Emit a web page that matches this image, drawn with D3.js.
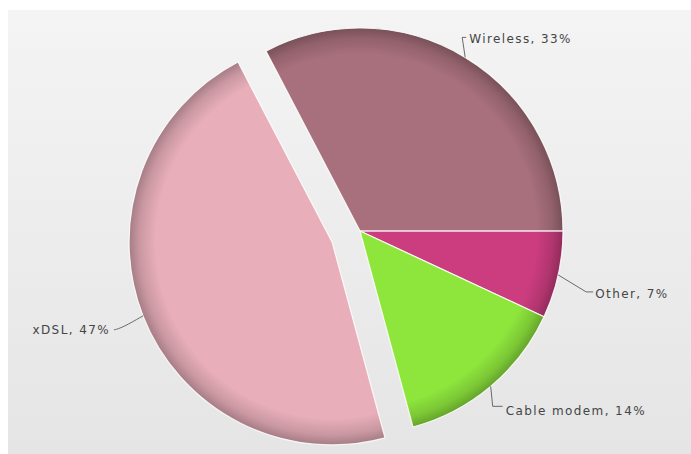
<!DOCTYPE html>
<html>
<head>
<meta charset="utf-8">
<script src="https://cdn.jsdelivr.net/npm/d3@7/dist/d3.min.js"></script>
<style>
  html, body { margin: 0; padding: 0; background: #ffffff; }
  svg { display: block; }
</style>
</head>
<body>
<svg id="chart" width="691" height="454"></svg>
<script>
// Broadband connection types, share of subscriptions (%)
const categories = ["Wireless", "Other", "Cable modem", "xDSL"];
const shares = [33, 7, 14, 47];
const sliceColors = ["#a8707c", "#cc3d80", "#8ee63d", "#e8aeba"];
const exploded = [false, false, false, true];

const W = 691, H = 454;
const cx = 360, cy = 231, R = 203;
const explodeDist = 30;
const startDeg = -27.6;

const svg = d3.select("#chart");
const defs = svg.append("defs");

// panel background
const bg = defs.append("linearGradient").attr("id", "panelBg")
  .attr("x1", 0).attr("y1", 0).attr("x2", 0).attr("y2", 1);
bg.append("stop").attr("offset", "0%").attr("stop-color", "#f4f4f4");
bg.append("stop").attr("offset", "100%").attr("stop-color", "#e5e5e5");
svg.append("rect").attr("x", 8).attr("y", 10).attr("width", W - 8).attr("height", H - 10)
  .attr("fill", "url(#panelBg)");

const pie = d3.pie().sort(null).value(d => d)
  .startAngle(startDeg * Math.PI / 180)
  .endAngle(startDeg * Math.PI / 180 + 2 * Math.PI);
const arcs = pie(shares);

const arc = d3.arc().innerRadius(0).outerRadius(R);
const rimArc = d3.arc().innerRadius(R).outerRadius(R);
const dirArc = d3.arc().innerRadius(1).outerRadius(1);

function offsetOf(d, i) {
  if (!exploded[i]) return [0, 0];
  const [x, y] = dirArc.centroid(d);
  const len = Math.hypot(x, y);
  return [x / len * explodeDist, y / len * explodeDist];
}

// rim shading: each slice darkens towards its outer edge
sliceColors.forEach((c, i) => {
  const base = d3.color(c);
  const g = defs.append("radialGradient").attr("id", "shade" + i)
    .attr("gradientUnits", "userSpaceOnUse")
    .attr("cx", 0).attr("cy", 0).attr("r", R);
  g.append("stop").attr("offset", "0%").attr("stop-color", base.formatHex());
  g.append("stop").attr("offset", "87%").attr("stop-color", base.formatHex());
  g.append("stop").attr("offset", "95%").attr("stop-color", base.darker(0.4).formatHex());
  g.append("stop").attr("offset", "100%").attr("stop-color", base.darker(0.95).formatHex());
});

const slices = svg.append("g").attr("transform", `translate(${cx},${cy})`);

slices.selectAll("path.slice")
  .data(arcs)
  .join("path")
  .attr("class", "slice")
  .attr("transform", (d, i) => { const [ox, oy] = offsetOf(d, i); return `translate(${ox},${oy})`; })
  .attr("d", arc)
  .attr("fill", (d, i) => `url(#shade${i})`)
  .attr("stroke", "#ffffff")
  .attr("stroke-opacity", 0.85)
  .attr("stroke-width", 1.2)
  .attr("stroke-linejoin", "round");

// label leader geometry (elbow and text offsets relative to the slice's rim point)
const labelLayout = [
  { elbow: [-3, -20], end: [1, -20], anchor: "start", text: [4, -14] },
  { elbow: [28, 17], end: [35, 17], anchor: "start", text: [37, 23] },
  { elbow: [2, 20], end: [12, 20], anchor: "start", text: [15, 29] },
  { elbow: [-21, 12], end: [-29, 14], anchor: "end", text: [-33, 18] }
];

const labels = svg.append("g").attr("transform", `translate(${cx},${cy})`);
arcs.forEach((d, i) => {
  const [ox, oy] = offsetOf(d, i);
  const [rx, ry] = rimArc.centroid(d);
  const p0 = [rx + ox, ry + oy];
  const L = labelLayout[i];
  const p1 = [p0[0] + L.elbow[0], p0[1] + L.elbow[1]];
  const p2 = [p0[0] + L.end[0], p0[1] + L.end[1]];
  labels.append("path")
    .attr("d", d3.line().curve(i === 3 ? d3.curveBasis : d3.curveLinear)([p0, p1, p2]))
    .attr("fill", "none")
    .attr("stroke", "#6a6a6a")
    .attr("stroke-width", 1);
  labels.append("text")
    .attr("x", p0[0] + L.text[0])
    .attr("y", p0[1] + L.text[1])
    .attr("text-anchor", L.anchor)
    .attr("font-family", "'DejaVu Sans', Verdana, sans-serif")
    .attr("font-size", 12)
    .attr("letter-spacing", 1.4)
    .attr("fill", "#454545")
    .text(`${categories[i]}, ${shares[i]}%`);
});
</script>
</body>
</html>
